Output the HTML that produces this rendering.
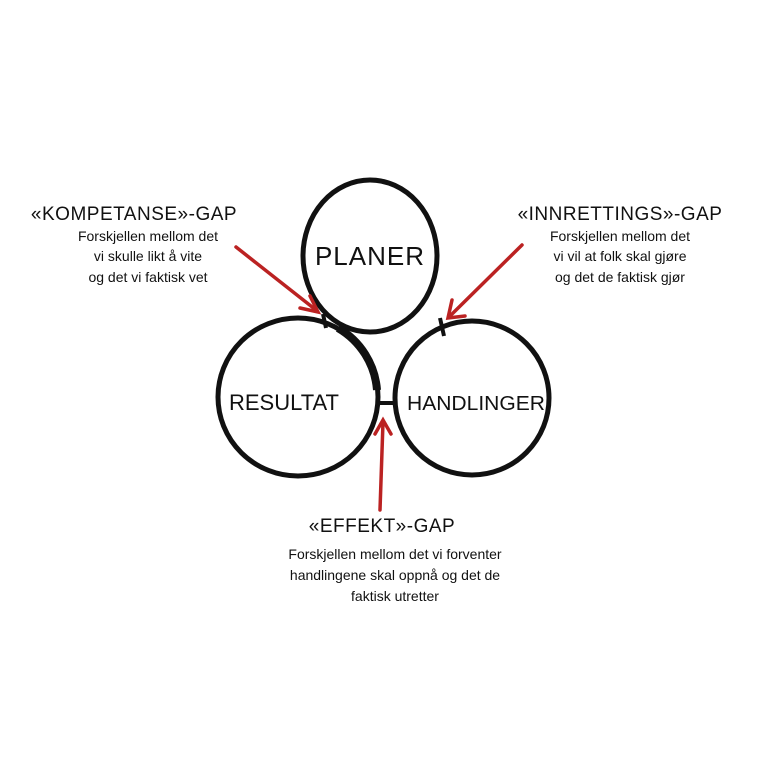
<!DOCTYPE html>
<html><head><style>
body{margin:0;width:768px;height:768px;background:#fff;overflow:hidden}
</style></head><body>
<svg width="768" height="768" xmlns="http://www.w3.org/2000/svg" font-family="Liberation Sans, sans-serif">
<g fill="none" stroke="#111" stroke-width="5">
<ellipse cx="370" cy="256" rx="67" ry="76"/>
<ellipse cx="298" cy="397" rx="80" ry="79"/>
<ellipse cx="472" cy="398" rx="77" ry="77"/>
</g>
<path d="M338 328 A80 79 0 0 1 377 390" stroke="#111" stroke-width="8" fill="none"/>
<g stroke="#111" stroke-width="4">
<line x1="323" y1="314" x2="326" y2="328"/>
<line x1="440" y1="318" x2="444" y2="336"/>
<line x1="378" y1="403" x2="394" y2="403"/>
</g>
<g stroke="#b22" stroke-width="3.5" fill="none" stroke-linecap="round">
<line x1="236" y1="247" x2="316" y2="310"/><path d="M300 308 L318 312 L310 296"/>
<line x1="522" y1="245" x2="450" y2="316"/><path d="M452 300 L448 318 L465 316"/>
<line x1="380" y1="510" x2="383" y2="422"/><path d="M375 434 L383 420 L391 434"/>
</g>
<g fill="#111" text-anchor="middle">
<text x="370" y="265" font-size="26" letter-spacing="1">PLANER</text>
<text x="284" y="410" font-size="22">RESULTAT</text>
<text x="476" y="410" font-size="20" textLength="138" lengthAdjust="spacingAndGlyphs">HANDLINGER</text>
<text x="134" y="220" font-size="19" letter-spacing="0.5">«KOMPETANSE»-GAP</text>
<text x="148" y="241" font-size="14">Forskjellen mellom det</text>
<text x="148" y="261" font-size="14">vi skulle likt å vite</text>
<text x="148" y="282" font-size="14">og det vi faktisk vet</text>
<text x="620" y="220" font-size="19" letter-spacing="0.5">«INNRETTINGS»-GAP</text>
<text x="620" y="241" font-size="14">Forskjellen mellom det</text>
<text x="620" y="261" font-size="14">vi vil at folk skal gjøre</text>
<text x="620" y="282" font-size="14">og det de faktisk gjør</text>
<text x="382" y="532" font-size="19" letter-spacing="0.5">«EFFEKT»-GAP</text>
<text x="395" y="559" font-size="14">Forskjellen mellom det vi forventer</text>
<text x="395" y="580" font-size="14">handlingene skal oppnå og det de</text>
<text x="395" y="601" font-size="14">faktisk utretter</text>
</g>
</svg>
</body></html>
